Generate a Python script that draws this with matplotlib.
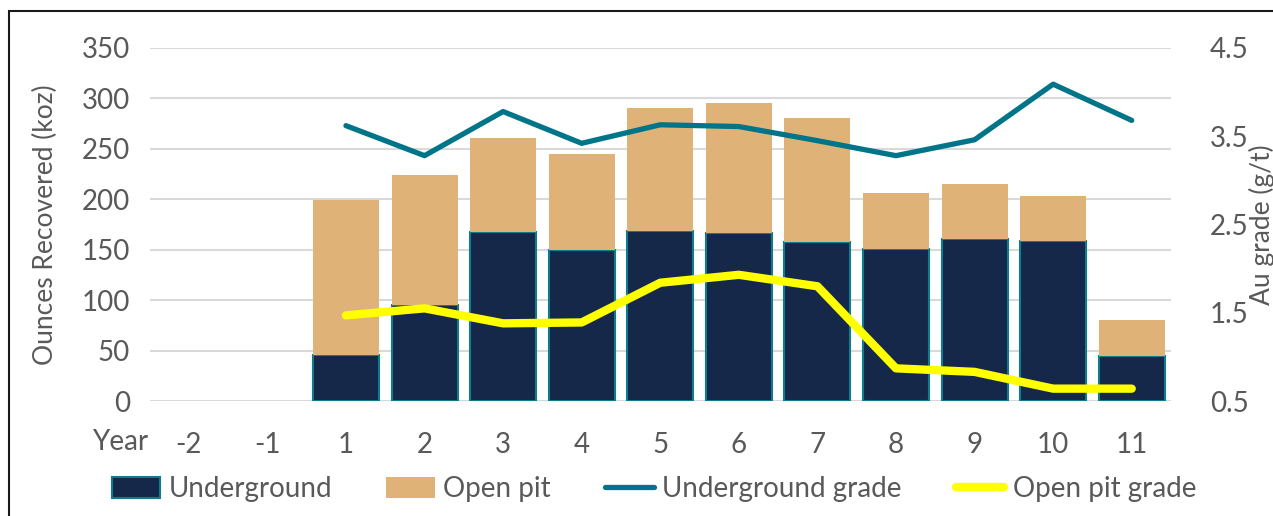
import matplotlib.pyplot as plt
import numpy as np
from matplotlib.lines import Line2D
from matplotlib.patches import Patch, Rectangle

plt.rcParams['font.family'] = ['Lato', 'DejaVu Sans']

years = ['-2', '-1', '1', '2', '3', '4', '5', '6', '7', '8', '9', '10', '11']
underground = [np.nan, np.nan, 46, 95, 168, 150, 169, 167, 158, 151, 161, 159, 45]
open_pit = [np.nan, np.nan, 153, 129, 93, 95, 122, 128, 123, 55, 54, 44, 35]
ug_grade = [np.nan, np.nan, 3.62, 3.28, 3.78, 3.42, 3.63, 3.61, 3.45, 3.28, 3.46, 4.09, 3.68]
op_grade = [np.nan, np.nan, 1.47, 1.55, 1.38, 1.39, 1.84, 1.93, 1.80, 0.87, 0.83, 0.64, 0.64]

navy = '#16284A'
teal_edge = '#0D7D8E'
tan = '#DFB377'
teal = '#00758A'
yellow = '#FFFF00'
txt = '#595959'

fig = plt.figure(figsize=(12.73, 5.16), dpi=100)
ax = fig.add_axes([149.5 / 1273, 115 / 516, 1021.5 / 1273, 353 / 516])
x = np.arange(len(years))

ax.bar(x, underground, width=0.84, color=navy, edgecolor=teal_edge, linewidth=1.5, zorder=2)
ax.bar(x, open_pit, width=0.84, bottom=underground, color=tan, edgecolor='none', zorder=2)

ax.set_xlim(-0.5, len(years) - 0.5)
ax.set_ylim(0, 350)
ax.set_yticks(range(0, 351, 50))
ax.yaxis.grid(True, color='#D9D9D9', linewidth=1.5, zorder=0)
ax.set_axisbelow(True)
ax.set_xticks(x)
ax.set_xticklabels(years)
ax.tick_params(axis='both', length=0, labelsize=20, colors=txt)
ax.tick_params(axis='x', pad=22)
ax.tick_params(axis='y', pad=14)
for s in ax.spines.values():
    s.set_visible(False)
ax.set_ylabel('Ounces Recovered (koz)', fontsize=19, color=txt, labelpad=17)

ax2 = ax.twinx()
ax2.plot(x, ug_grade, color=teal, linewidth=3.8, solid_capstyle='round', zorder=3)
ax2.plot(x, op_grade, color=yellow, linewidth=6, solid_capstyle='round', zorder=3)
ax2.set_ylim(0.5, 4.5)
ax2.set_yticks([0.5, 1.5, 2.5, 3.5, 4.5])
ax2.tick_params(axis='y', length=0, labelsize=20, colors=txt, pad=28)
for s in ax2.spines.values():
    s.set_visible(False)
ax2.set_ylabel('Au grade (g/t)', fontsize=19, color=txt, labelpad=0)

fig.text(120 / 1273, 1 - 442 / 516, 'Year', fontsize=20, color=txt, ha='center', va='center')

handles = [
    Patch(facecolor=navy, edgecolor=teal_edge, linewidth=1.5),
    Patch(facecolor=tan, edgecolor='none'),
    Line2D([0], [0], color=teal, linewidth=3.8, solid_capstyle='round'),
    Line2D([0], [0], color=yellow, linewidth=6, solid_capstyle='round'),
]
labels = ['Underground', 'Open pit', 'Underground grade', 'Open pit grade']
leg = fig.legend(handles, labels, loc='center', bbox_to_anchor=(654 / 1273, 1 - 489 / 516),
                 ncol=4, frameon=False, fontsize=20, handlelength=1.75, handleheight=0.8,
                 handletextpad=0.3, columnspacing=1.95)
for t in leg.get_texts():
    t.set_color(txt)

fig.add_artist(Rectangle((9 / 1273, -0.1), 1.2, 1 - 10.5 / 516 + 0.1, transform=fig.transFigure,
                         fill=False, edgecolor='#1a1a1a', linewidth=1.5))

fig.savefig('out.png', dpi=100)
